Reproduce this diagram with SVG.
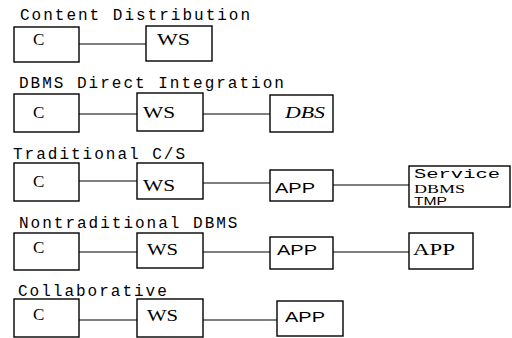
<svg xmlns="http://www.w3.org/2000/svg" width="512" height="338" viewBox="0 0 512 338">
<style>
.bg{fill:#fff}
.box{fill:#fff;stroke:#000;stroke-width:1.4}
.ln{stroke:#000;stroke-width:1.1;fill:none}
.title{font-family:"Liberation Mono",monospace;font-size:16px;letter-spacing:2px;fill:#000}
.lbl{font-family:"Liberation Serif",serif;font-size:17px;fill:#000}
.app{font-family:"Liberation Sans",sans-serif;font-size:15px;fill:#000}
</style>
<rect class="bg" width="512" height="338"/>
<g id="titles">
<text class="title" x="20" y="20">Content Distribution</text>
<text class="title" x="19" y="88">DBMS Direct Integration</text>
<text class="title" x="13" y="159">Traditional C/S</text>
<text class="title" x="19" y="228">Nontraditional DBMS</text>
<text class="title" x="18" y="296">Collaborative</text>
</g>
<g id="connectors">
<line class="ln" x1="79" y1="44" x2="146" y2="44"/>
<line class="ln" x1="79" y1="114" x2="137" y2="114"/>
<line class="ln" x1="203" y1="114" x2="270" y2="114"/>
<line class="ln" x1="79" y1="181" x2="137" y2="181"/>
<line class="ln" x1="203" y1="183" x2="270" y2="183"/>
<line class="ln" x1="333" y1="185" x2="409" y2="185"/>
<line class="ln" x1="79" y1="252" x2="137" y2="252"/>
<line class="ln" x1="203" y1="252" x2="270" y2="252"/>
<line class="ln" x1="333" y1="252" x2="409" y2="252"/>
<line class="ln" x1="79" y1="320" x2="137" y2="320"/>
<line class="ln" x1="203" y1="320" x2="277" y2="320"/>
</g>
<g id="r1-c"><rect class="box" x="14" y="27" width="65" height="35"/><text class="lbl" x="33" y="45">C</text></g>
<g id="r1-ws"><rect class="box" x="146" y="26" width="66" height="35"/><text class="lbl" x="157" y="45" textLength="33" lengthAdjust="spacingAndGlyphs">WS</text></g>
<g id="r2-c"><rect class="box" x="14" y="94" width="65" height="38"/><text class="lbl" x="33" y="118">C</text></g>
<g id="r2-ws"><rect class="box" x="137" y="93" width="66" height="38"/><text class="lbl" x="143" y="118" textLength="32" lengthAdjust="spacingAndGlyphs">WS</text></g>
<g id="r2-dbs"><rect class="box" x="270" y="95" width="63" height="37"/><text class="lbl" x="285" y="118" font-style="italic" textLength="40" lengthAdjust="spacingAndGlyphs">DBS</text></g>
<g id="r3-c"><rect class="box" x="14" y="163" width="65" height="38"/><text class="lbl" x="33" y="187">C</text></g>
<g id="r3-ws"><rect class="box" x="137" y="163" width="66" height="36"/><text class="lbl" x="143" y="191" textLength="32" lengthAdjust="spacingAndGlyphs">WS</text></g>
<g id="r3-app"><rect class="box" x="270" y="170" width="63" height="31"/><text class="app" x="275" y="193" textLength="40" lengthAdjust="spacingAndGlyphs">APP</text></g>
<g id="r3-svc"><rect class="box" x="409" y="166" width="101" height="41"/>
<text x="414" y="178" font-family="Liberation Mono,monospace" font-size="12" textLength="86" lengthAdjust="spacingAndGlyphs">Service</text>
<text x="414" y="193" font-family="Liberation Serif,serif" font-size="13" textLength="51" lengthAdjust="spacingAndGlyphs">DBMS</text>
<text x="414" y="205" font-family="Liberation Sans,sans-serif" font-size="10" textLength="33" lengthAdjust="spacingAndGlyphs">TMP</text></g>
<g id="r4-c"><rect class="box" x="14" y="233" width="65" height="37"/><text class="lbl" x="33" y="253">C</text></g>
<g id="r4-ws"><rect class="box" x="137" y="233" width="66" height="35"/><text class="lbl" x="147" y="255" textLength="31" lengthAdjust="spacingAndGlyphs">WS</text></g>
<g id="r4-app"><rect class="box" x="270" y="237" width="63" height="32"/><text class="app" x="277" y="255" textLength="40" lengthAdjust="spacingAndGlyphs">APP</text></g>
<g id="r4-app2"><rect class="box" x="409" y="233" width="64" height="36"/><text class="lbl" x="413" y="255" textLength="42" lengthAdjust="spacingAndGlyphs">APP</text></g>
<g id="r5-c"><rect class="box" x="14" y="299" width="65" height="38"/><text class="lbl" x="33" y="320">C</text></g>
<g id="r5-ws"><rect class="box" x="137" y="299" width="66" height="38"/><text class="lbl" x="147" y="321" textLength="31" lengthAdjust="spacingAndGlyphs">WS</text></g>
<g id="r5-app"><rect class="box" x="277" y="301" width="66" height="35"/><text class="app" x="285" y="322" textLength="40" lengthAdjust="spacingAndGlyphs">APP</text></g>
</svg>
